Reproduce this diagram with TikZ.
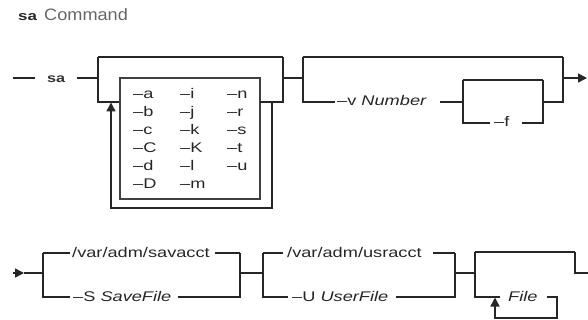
\documentclass[tikz,border=0pt]{standalone}
\usepackage{fontspec}
\setmainfont{Liberation Sans}[FakeStretch=1.3]
\newfontfamily\titlefont{Liberation Sans}[FakeStretch=1.1]
\usetikzlibrary{arrows.meta}
\begin{document}
\begin{tikzpicture}[x=1pt,y=-1pt,
  rail/.style={line width=1.5pt, draw=black!85, line join=miter},
  thick rail/.style={line width=2.2pt, draw=black!85, line join=miter},
  boxline/.style={line width=1.2pt, draw=black!75},
  lbl/.style={font=\fontsize{14}{14}\selectfont, text=black!85, inner sep=0pt, anchor=west, text height=10pt, text depth=2pt},
  opt/.style={font=\fontsize{14}{14}\selectfont, text=black!85, inner sep=0pt, anchor=west, text height=10pt, text depth=2pt},
  tip/.style={-{Triangle[length=9pt,width=9pt]}}]
\useasboundingbox (0,0) rectangle (588,320);

% title
\node[anchor=base west, font=\bfseries\fontsize{13}{13}\selectfont, text=black!85, inner sep=0pt] (tsa) at (18,21) {sa};
\node[anchor=base west, font=\titlefont\fontsize{16.5}{16.5}\selectfont, text=black!60, inner sep=0pt] (tcmd) at (44,21) {Command};

% ---------- row 1 ----------
\coordinate (r1s) at (13,78);
\coordinate (r1a) at (35,78);
\draw[rail] (r1s) -- (r1a);
\node[anchor=west, font=\bfseries\fontsize{12.5}{12.5}\selectfont, text=black!80, inner sep=0pt, text height=9pt, text depth=1pt] (sa) at (47,79) {sa};
\draw[rail] (77,78) -- (98,78);

% group 1 (flags, repeatable)
\draw[thick rail] (98,57) -- (283,57);
\draw[rail] (98,57) -- (98,102) -- (120,102);
\draw[boxline] (120,78) rectangle (260,199);
\draw[rail] (260,102) -- (283,102) -- (283,57);
\draw[rail,tip] (272,102) -- (272,208) -- (111,208) -- (111,102.5);

\foreach \t [count=\i] in {a,b,c,C,d,D}
  \node[opt] (fa\i) at (133,{95+18*(\i-1)}) {–\t};
\foreach \t [count=\i] in {i,j,k,K,l,m}
  \node[opt] (fb\i) at (180,{95+18*(\i-1)}) {–\t};
\foreach \t [count=\i] in {n,r,s,t,u}
  \node[opt] (fc\i) at (227,{95+18*(\i-1)}) {–\t};

% connector
\draw[rail] (283,78) -- (303,78);

% group 2 (-v Number [-f])
\draw[thick rail] (303,57) -- (563,57);
\draw[rail] (303,57) -- (303,102) -- (335,102);
\node[lbl] (vnum) at (337,102) {–v \textit{Number}};
\draw[rail] (440,102) -- (463,102);
\draw[thick rail] (463,80) -- (543,80);
\draw[rail] (463,80) -- (463,123) -- (490,123);
\node[lbl] (fopt) at (494,123) {–f};
\draw[rail] (522,123) -- (543,123) -- (543,80);
\draw[rail] (543,102) -- (563,102) -- (563,57);
\draw[rail,tip] (563,78) -- (587,78);

% ---------- row 2 ----------
\draw[rail,tip] (13,273) -- (24,273);
\draw[rail] (24,273) -- (43,273);

% group A
\draw[thick rail] (43,253) -- (70,253);
\draw[rail] (43,253) -- (43,297) -- (70,297);
\node[lbl] (sav) at (72,253) {/var/adm/savacct};
\draw[thick rail] (215,253) -- (240,253);
\draw[rail] (240,253) -- (240,297) -- (178,297);
\node[lbl] (sopt) at (73,297) {–S \textit{SaveFile}};
\draw[rail] (240,273) -- (263,273);

% group B
\draw[thick rail] (263,253) -- (283,253);
\draw[rail] (263,253) -- (263,297) -- (288,297);
\node[lbl] (usr) at (287,253) {/var/adm/usracct};
\draw[thick rail] (433,253) -- (455,253);
\draw[rail] (455,253) -- (455,297) -- (396,297);
\node[lbl] (uopt) at (292,297) {–U \textit{UserFile}};
\draw[rail] (455,273) -- (475,273);

% group C
\draw[thick rail] (475,252) -- (575,252);
\draw[rail] (475,252) -- (475,297) -- (500,297);
\draw[rail] (575,252) -- (575,273) -- (588,273);
\node[lbl] (file) at (508,297) {\textit{File}};
\draw[rail,tip] (547,297) -- (557,297) -- (557,318) -- (495,318) -- (495,297.5);
\end{tikzpicture}
\end{document}
